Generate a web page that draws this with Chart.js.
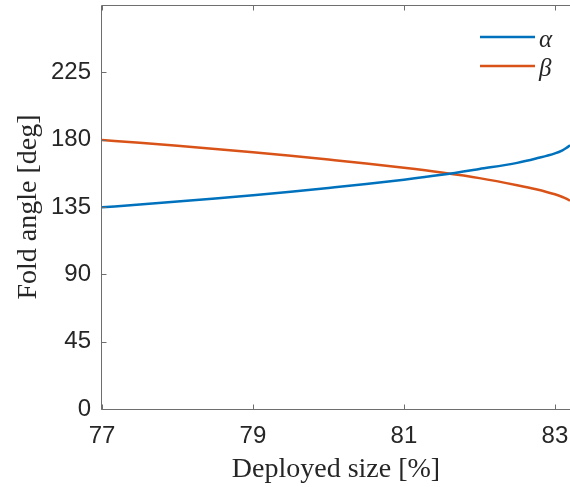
<!DOCTYPE html>
<html>
<head>
<meta charset="utf-8">
<script src="https://cdn.jsdelivr.net/npm/chart.js"></script>
<style>
html, body { margin: 0; padding: 0; background: #fff; }
</style>
</head>
<body>
<canvas id="myChart" width="570" height="487"></canvas>
<script>
// values
const xValues = [77, 77.5, 78, 78.5, 79, 79.5, 80, 80.5, 81, 81.5, 82, 82.5, 82.75, 83, 83.1, 83.15, 83.2];
const alphaValues = [134.8, 136.6, 138.6, 140.7, 142.9, 145.2, 147.7, 150.3, 153.2, 156.5, 160.4, 164.5, 167.4, 170.8, 172.9, 174.4, 176.3];
const betaValues = [179.8, 177.9, 175.9, 173.8, 171.6, 169.2, 166.7, 164.1, 161.2, 158.0, 154.3, 149.6, 146.9, 143.5, 141.7, 140.6, 139.2];
const xTicks = [77, 79, 81, 83];
const yTicks = [0, 45, 90, 135, 180, 225];
const seriesNames = ["α", "β"];
const lineColors = ["#0072BD", "#D95319"];
const xTitle = "Deployed size [%]";
const yTitle = "Fold angle [deg]";

const axisColor = "#6e6e6e";
const textColor = "#262626";

function pts(ys) {
    return xValues.map((x, i) => ({x: x, y: ys[i]}));
}

function noPad(scale) {
    scale.paddingTop = 0;
    scale.paddingBottom = 0;
    scale.paddingLeft = 0;
    scale.paddingRight = 0;
}

// box, inward ticks, axis titles and legend, MATLAB style
const matlabAxes = {
    id: "matlabAxes",
    afterDraw(chart) {
        const ctx = chart.ctx;
        const a = chart.chartArea;
        const xs = chart.scales.x;
        const ys = chart.scales.y;
        const L = a.left - 0.5, T = a.top + 0.5, B = a.bottom + 0.5;
        ctx.save();
        ctx.strokeStyle = axisColor;
        ctx.lineWidth = 1;
        ctx.beginPath();
        ctx.moveTo(a.right, T); ctx.lineTo(L, T); ctx.lineTo(L, B); ctx.lineTo(a.right, B);
        xTicks.forEach(v => {
            const px = Math.round(xs.getPixelForValue(v)) + 0.5;
            ctx.moveTo(px, B); ctx.lineTo(px, B - 5);
            ctx.moveTo(px, T); ctx.lineTo(px, T + 5);
        });
        yTicks.forEach(v => {
            const py = Math.round(ys.getPixelForValue(v)) + 0.5;
            ctx.moveTo(L, py); ctx.lineTo(L + 5, py);
        });
        ctx.stroke();

        // axis titles
        ctx.fillStyle = textColor;
        ctx.font = '28px "Liberation Serif", serif';
        ctx.textAlign = "center";
        ctx.textBaseline = "alphabetic";
        ctx.fillText(xTitle, (a.left + a.right) / 2, 477);
        ctx.save();
        ctx.translate(36, (a.top + a.bottom) / 2);
        ctx.rotate(-Math.PI / 2);
        ctx.fillText(yTitle, 0, 0);
        ctx.restore();

        // legend
        ctx.font = 'italic 25px "Liberation Serif", serif';
        ctx.textAlign = "left";
        chart.data.datasets.forEach((ds, i) => {
            const ly = 37 + i * 29;
            ctx.strokeStyle = ds.borderColor;
            ctx.lineWidth = 2.5;
            ctx.beginPath();
            ctx.moveTo(480, ly); ctx.lineTo(535, ly);
            ctx.stroke();
            ctx.fillStyle = textColor;
            ctx.fillText(ds.label, 539, ly + 10);
        });
        ctx.restore();
    }
};

new Chart("myChart", {
    type: "line",
    data: {
        datasets: [{
            label: seriesNames[0],
            data: pts(alphaValues),
            borderColor: lineColors[0],
            borderWidth: 2.5,
            pointRadius: 0,
            cubicInterpolationMode: "monotone",
            fill: false
        }, {
            label: seriesNames[1],
            data: pts(betaValues),
            borderColor: lineColors[1],
            borderWidth: 2.5,
            pointRadius: 0,
            cubicInterpolationMode: "monotone",
            fill: false
        }]
    },
    options: {
        responsive: false,
        animation: false,
        devicePixelRatio: 1,
        layout: { padding: { top: 5, right: 0, left: 0, bottom: 0 } },
        plugins: {
            legend: { display: false },
            tooltip: { enabled: false }
        },
        scales: {
            x: {
                type: "linear",
                min: 77,
                max: 83.2,
                afterBuildTicks: axis => { axis.ticks = xTicks.map(v => ({value: v})); },
                afterFit: scale => { scale.height = 78; noPad(scale); },
                grid: { display: false, drawTicks: false },
                border: { display: false },
                ticks: {
                    padding: 13,
                    color: textColor,
                    font: { family: "Liberation Sans", size: 24 },
                    maxRotation: 0
                }
            },
            y: {
                min: 0,
                max: 270,
                afterBuildTicks: axis => { axis.ticks = yTicks.map(v => ({value: v})); },
                afterFit: scale => { scale.width = 102; noPad(scale); },
                grid: { display: false, drawTicks: false },
                border: { display: false },
                ticks: {
                    padding: 11,
                    color: textColor,
                    font: { family: "Liberation Sans", size: 24 }
                }
            }
        }
    },
    plugins: [matlabAxes]
});
</script>
</body>
</html>
